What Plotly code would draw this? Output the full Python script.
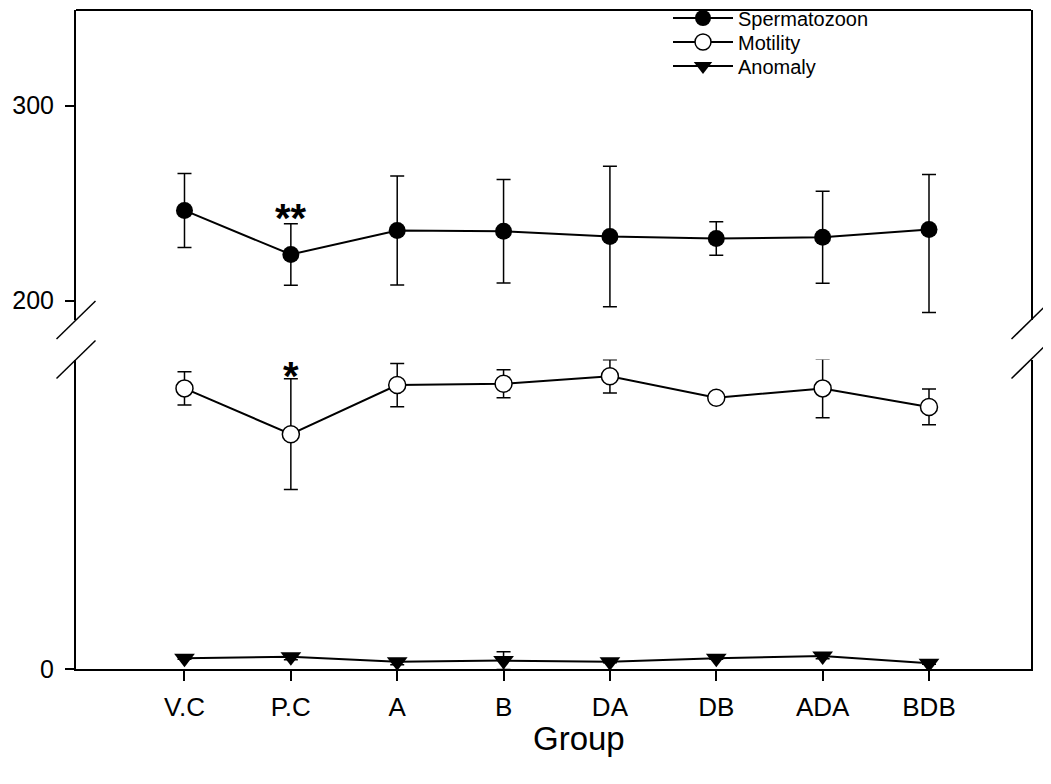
import plotly.graph_objects as go

groups = ["V.C", "P.C", "A", "B", "DA", "DB", "ADA", "BDB"]

sperm = [246.2, 223.6, 235.9, 235.5, 232.8, 231.8, 232.5, 236.4]
sperm_err_plus = [19.0, 15.8, 28.0, 26.5, 36.0, 8.6, 23.6, 28.2]
sperm_err_minus = [19.0, 15.8, 28.0, 26.5, 36.0, 8.6, 23.6, 42.6]

motility = [143.9, 120.4, 145.6, 146.3, 150.1, 139.1, 143.9, 134.4]
motility_err = [8.5, 28.4, 11.1, 7.2, 8.5, 0.0, 15.1, 9.2]

anomaly = [5.5, 6.3, 3.7, 4.3, 3.7, 5.5, 6.7, 2.9]
anomaly_err = [0.5, 1.5, 1.5, 4.6, 0.5, 0.5, 1.5, 0.5]

xi = list(range(len(groups)))
FONT = "Arial, Liberation Sans, sans-serif"

W, H = 1051, 784
L, R, T, B = 68, 28, 2, 123
pw, ph = W - L - R, H - T - B
Y0 = H - B  # pixel row of the plot bottom


def px_to_paper(px, py):
    return (px - L) / pw, (Y0 - py) / ph


low_top_px = 351.5
up_bot_px = 312.0
low_top = (Y0 - low_top_px) / ph
up_bot = (Y0 - up_bot_px) / ph

fig = go.Figure()

fig.add_trace(go.Scatter(
    x=xi, y=sperm, name="Spermatozoon", mode="lines+markers", yaxis="y2",
    legend="legend",
    line=dict(color="black", width=2),
    marker=dict(symbol="circle", size=17, color="black"),
    error_y=dict(type="data", symmetric=False, array=sperm_err_plus,
                 arrayminus=sperm_err_minus, color="black", thickness=1.5, width=7),
))
fig.add_trace(go.Scatter(
    x=xi, y=motility, name="Motility", mode="lines+markers", yaxis="y",
    legend="legend2",
    line=dict(color="black", width=2),
    marker=dict(symbol="circle", size=17, color="white", line=dict(color="black", width=1.5)),
    error_y=dict(type="data", array=motility_err, color="black", thickness=1.5, width=7),
))
fig.add_trace(go.Scatter(
    x=xi, y=anomaly, name="Anomaly", mode="lines+markers", yaxis="y",
    legend="legend3",
    line=dict(color="black", width=2),
    marker=dict(symbol="triangle-down", size=18, color="black"),
    error_y=dict(type="data", array=anomaly_err, color="black", thickness=1.5, width=7),
))

fig.add_annotation(x=1, y=242.5, xref="x", yref="y2", text="<b>**</b>", showarrow=False,
                   font=dict(family=FONT, size=40, color="black"))
fig.add_annotation(x=1, y=150.5, xref="x", yref="y", text="<b>*</b>", showarrow=False,
                   font=dict(family=FONT, size=40, color="black"))

gx, gy = px_to_paper(571, 731)
fig.add_annotation(x=gx, y=gy, xref="paper", yref="paper", text="Group", showarrow=False,
                   xanchor="center", yanchor="middle",
                   font=dict(family=FONT, size=33, color="black"))

leg_x = px_to_paper(660, 0)[0]
legend_common = dict(x=leg_x, xanchor="left", yanchor="middle", bgcolor="rgba(0,0,0,0)",
                     itemwidth=60, font=dict(family=FONT, size=20, color="black"),
                     borderwidth=0)
rows = [10, 34, 58]

fig.update_layout(
    width=W, height=H,
    margin=dict(l=L, r=R, t=T, b=B, autoexpand=False),
    paper_bgcolor="white", plot_bgcolor="white",
    font=dict(family=FONT, size=26, color="black"),
    showlegend=True,
    legend=dict(y=px_to_paper(0, rows[0])[1], **legend_common),
    legend2=dict(y=px_to_paper(0, rows[1])[1], **legend_common),
    legend3=dict(y=px_to_paper(0, rows[2])[1], **legend_common),
    xaxis=dict(range=[-1.020, 7.959], tickvals=xi, ticktext=groups,
               showline=True, linecolor="black", linewidth=2, ticks="outside",
               ticklen=10, tickwidth=1.5, tickcolor="black", showgrid=False,
               zeroline=False, anchor="y", ticklabelstandoff=4,
               tickfont=dict(family=FONT, size=26)),
    yaxis=dict(domain=[0, low_top], range=[0, (Y0 - low_top_px) / 1.95], tickvals=[0],
               ticktext=["0"],
               showline=True, linecolor="black", linewidth=2, mirror=True,
               ticks="outside", ticklen=9, tickwidth=1.5, tickcolor="black",
               showgrid=False, zeroline=False, ticklabelstandoff=6,
               tickfont=dict(family=FONT, size=25)),
    yaxis2=dict(domain=[up_bot, 1], range=[190.0, 349.0], tickvals=[200, 300],
                showline=True, linecolor="black", linewidth=2, mirror=True,
                ticks="outside", ticklen=9, tickwidth=1.5, tickcolor="black",
                showgrid=False, zeroline=False, anchor="x", ticklabelstandoff=6,
                tickfont=dict(family=FONT, size=25)),
)

# top frame line
fig.add_shape(type="line", xref="paper", yref="paper", x0=0, x1=1, y0=1, y1=1,
              line=dict(color="black", width=2))

# axis break slashes (left and right)
for cx in (L, W - R):
    for yc in (up_bot_px, low_top_px):
        x0, y0 = px_to_paper(cx - 19.5, yc + 19)
        x1, y1 = px_to_paper(cx + 19.5, yc - 19)
        fig.add_shape(type="line", xref="paper", yref="paper", x0=x0, y0=y0, x1=x1, y1=y1,
                      line=dict(color="black", width=1.5))

fig.write_html("out.html")
